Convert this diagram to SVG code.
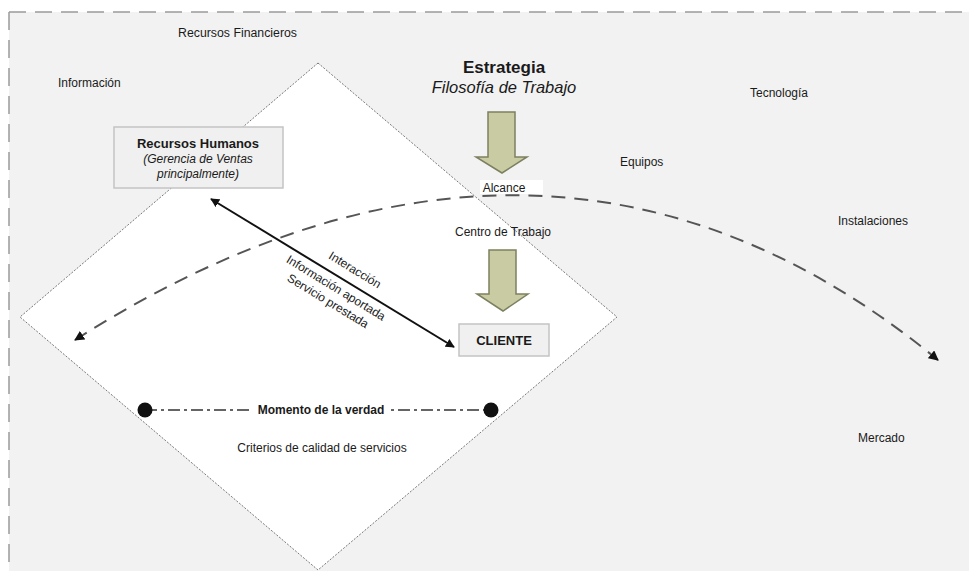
<svg xmlns="http://www.w3.org/2000/svg" width="969" height="571" viewBox="0 0 969 571">
<defs>
<style>
text{font-family:"Liberation Sans",Arial,sans-serif;fill:#1a1a1a}
.lbl{font-size:12px}
.box{fill:#f0f0f0;stroke:#c4c4c4;stroke-width:1.5}
.blk{fill:#c9cba3;stroke:#7d8060;stroke-width:1.5}
</style>
<marker id="ah" viewBox="0 0 10 10" refX="9" refY="5" markerWidth="4.5" markerHeight="4.5" orient="auto-start-reverse"><path d="M0,0 L10,5 L0,10 z" fill="#111"/></marker>
<marker id="dh" viewBox="0 0 10 10" refX="9" refY="5" markerWidth="5" markerHeight="5" orient="auto-start-reverse"><path d="M0,0 L10,5 L0,10 z" fill="#111"/></marker>
</defs>
<rect x="0" y="0" width="969" height="571" fill="#ffffff"/>
<rect x="9" y="12" width="960" height="559" fill="#f2f2f2"/>
<g id="border" stroke="#9a9a9a" stroke-width="1.5" fill="none">
<line x1="9" y1="12" x2="969" y2="12" stroke-dasharray="17 9"/>
<line x1="9" y1="12" x2="9" y2="571" stroke-dasharray="18 10"/>
</g>
<g id="diamond"><polygon points="318,63 617,317 318,570 20,317" fill="#ffffff" stroke="#777" stroke-width="1" stroke-dasharray="2 1.5"/></g>
<g id="connectors">
<path d="M75,340 C295,200 612,92 938,360" fill="none" stroke="#555" stroke-width="2" stroke-dasharray="14 9" marker-start="url(#dh)" marker-end="url(#dh)"/>
<line x1="211" y1="199" x2="454" y2="347" stroke="#111" stroke-width="2" marker-start="url(#ah)" marker-end="url(#ah)"/>
<line x1="145" y1="410" x2="491" y2="410" stroke="#333" stroke-width="1.5" stroke-dasharray="12 4 3 4"/>
<circle cx="145" cy="410" r="7.5" fill="#111"/>
<circle cx="491" cy="410" r="7.5" fill="#111"/>
</g>
<g id="estrategia">
<text x="504" y="73" text-anchor="middle" font-size="17" font-weight="bold">Estrategia</text>
<text x="504" y="93" text-anchor="middle" font-size="16.5" font-style="italic">Filosofía de Trabajo</text>
</g>
<g id="arrow1"><path class="blk" d="M488,112 H515 V157 H527 L502,173 L476,157 H488 Z"/></g>
<g id="alcance">
<rect x="480" y="180" width="63" height="14" fill="#ffffff"/>
<text class="lbl" x="504" y="192" text-anchor="middle">Alcance</text>
</g>
<g id="centro"><text class="lbl" x="503" y="236" text-anchor="middle">Centro de Trabajo</text></g>
<g id="arrow2"><path class="blk" d="M489,250 H516 V294 H528 L503,311 L477,294 H489 Z"/></g>
<g id="cliente">
<rect class="box" x="459" y="324" width="90" height="32"/>
<text x="504" y="345" text-anchor="middle" font-size="13" font-weight="bold">CLIENTE</text>
</g>
<g id="rrhh">
<rect class="box" x="114" y="127" width="169" height="61"/>
<text x="198" y="148" text-anchor="middle" font-size="13" font-weight="bold">Recursos Humanos</text>
<text x="198" y="163" text-anchor="middle" font-size="12" font-style="italic">(Gerencia de Ventas</text>
<text x="198" y="178" text-anchor="middle" font-size="12" font-style="italic">principalmente)</text>
</g>
<g id="rel-labels" font-size="12">
<text x="355" y="274" text-anchor="middle" transform="rotate(31.4 355 270)">Interacción</text>
<text x="336" y="292" text-anchor="middle" transform="rotate(31.4 336 288)">Información aportada</text>
<text x="328" y="305" text-anchor="middle" transform="rotate(31.4 328 301)">Servicio prestada</text>
</g>
<g id="momento">
<rect x="252" y="401" width="138" height="17" fill="#ffffff"/>
<text x="321" y="414" text-anchor="middle" font-size="12" font-weight="bold">Momento de la verdad</text>
</g>
<g id="criterios"><text class="lbl" x="322" y="452" text-anchor="middle">Criterios de calidad de servicios</text></g>
<g id="recursos-financieros"><text class="lbl" x="178" y="37" textLength="119" lengthAdjust="spacingAndGlyphs">Recursos Financieros</text></g>
<g id="informacion"><text class="lbl" x="58" y="87">Información</text></g>
<g id="tecnologia"><text class="lbl" x="750" y="97">Tecnología</text></g>
<g id="equipos"><text class="lbl" x="620" y="166">Equipos</text></g>
<g id="instalaciones"><text class="lbl" x="838" y="225">Instalaciones</text></g>
<g id="mercado"><text class="lbl" x="858" y="442">Mercado</text></g>
</svg>
